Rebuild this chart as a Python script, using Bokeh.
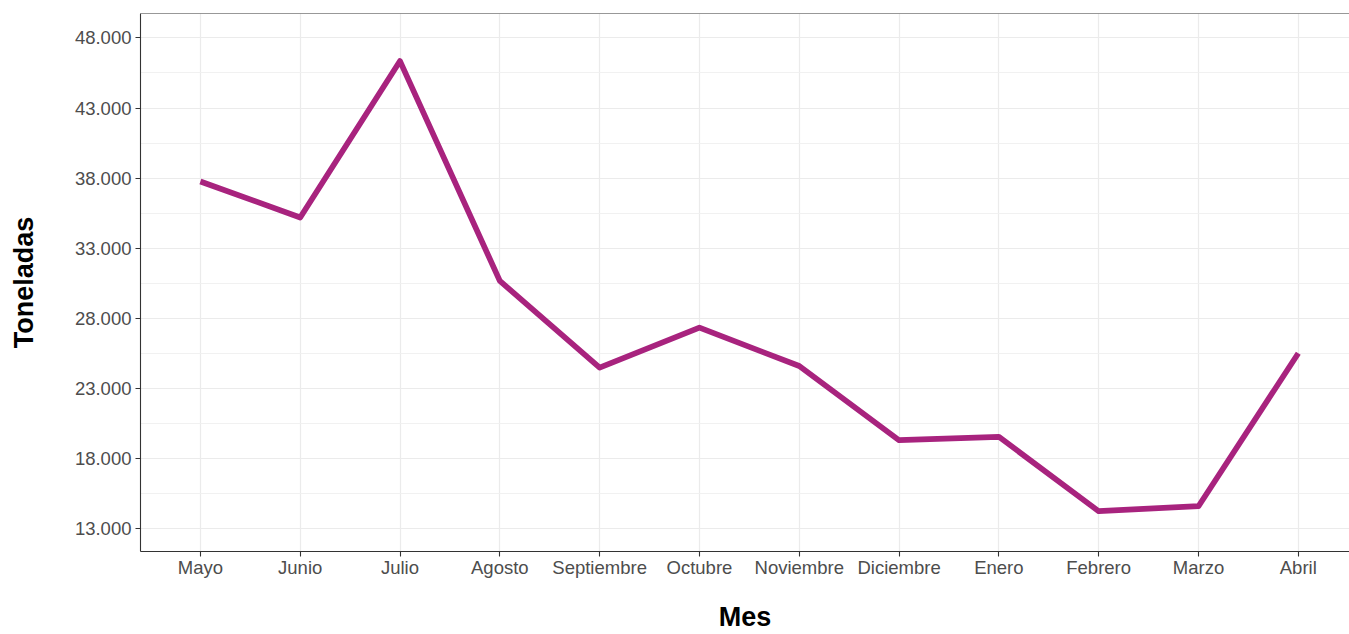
from bokeh.plotting import figure
from bokeh.models import FixedTicker, Span, Range1d
from bokeh.embed import file_html
from bokeh.resources import INLINE

months = ["Mayo", "Junio", "Julio", "Agosto", "Septiembre", "Octubre",
          "Noviembre", "Diciembre", "Enero", "Febrero", "Marzo", "Abril"]
toneladas = [37760, 35185, 46350, 30665, 24470, 27330,
             24590, 19300, 19540, 14235, 14590, 25500]
y_ticks = [13000, 18000, 23000, 28000, 33000, 38000, 43000, 48000]
y_minor = [10500, 15500, 20500, 25500, 30500, 35500, 40500, 45500]
y_labels = ["13.000", "18.000", "23.000", "28.000", "33.000", "38.000", "43.000", "48.000"]

FONT = "Liberation Sans"
x_idx = list(range(len(months)))

p = figure(width=1349, height=634, output_backend="svg", toolbar_location=None,
           x_range=Range1d(-0.6, 11.513), y_range=Range1d(11357, 49743),
           min_border_left=140, min_border_right=0, min_border_top=13, min_border_bottom=83)
p.outline_line_color = None
p.background_fill_color = "white"
p.border_fill_color = "white"

p.line(x_idx, toneladas, line_color="#A8237E", line_width=5.7, line_join="round")

# axes
p.xaxis.ticker = FixedTicker(ticks=x_idx)
p.xaxis.major_label_overrides = {i: m for i, m in zip(x_idx, months)}
p.yaxis.ticker = FixedTicker(ticks=y_ticks, minor_ticks=y_minor)
p.yaxis.major_label_overrides = {t: l for t, l in zip(y_ticks, y_labels)}

for ax in (p.xaxis[0], p.yaxis[0]):
    ax.axis_line_color = "#333333"
    ax.axis_line_width = 1.1
    ax.major_tick_line_color = "#333333"
    ax.major_tick_line_width = 1.1
    ax.major_tick_out = 5
    ax.major_tick_in = 0
    ax.minor_tick_line_color = None
    ax.major_label_text_font = FONT
    ax.major_label_text_font_size = "18.5px"
    ax.major_label_text_color = "#4D4D4D"
    ax.major_label_standoff = 4
    ax.axis_label_text_font = FONT
    ax.axis_label_text_font_size = "27px"
    ax.axis_label_text_font_style = "bold"
    ax.axis_label_text_color = "black"

p.xaxis.major_label_standoff = 0
p.yaxis.axis_label = "Toneladas"
p.yaxis.axis_label_standoff = 33
p.xaxis.axis_label = "Mes"
p.xaxis.axis_label_standoff = 21

p.xgrid.grid_line_color = "#EBEBEB"
p.xgrid.grid_line_width = 1.2
p.ygrid.grid_line_color = "#EBEBEB"
p.ygrid.grid_line_width = 1.2
p.ygrid.minor_grid_line_color = "#EFEFEF"
p.ygrid.minor_grid_line_width = 0.9

p.add_layout(Span(location=49743, dimension="width", line_color="#333333", line_width=1.1))

open("out.html", "w").write(file_html(p, INLINE))
